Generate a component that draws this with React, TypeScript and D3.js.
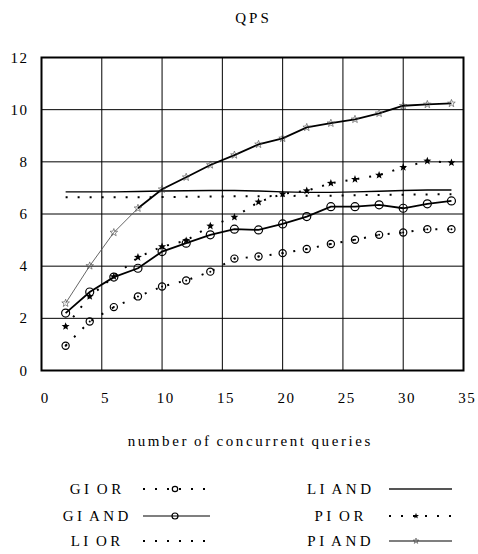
import React from "react";
import * as d3 from "d3";

const xs = [2, 4, 6, 8, 10, 12, 14, 16, 18, 20, 22, 24, 26, 28, 30, 32, 34];
const giOr = [0.95, 1.88, 2.43, 2.84, 3.22, 3.45, 3.79, 4.29, 4.37, 4.5, 4.66, 4.85, 5.01, 5.2, 5.29, 5.42, 5.42];
const giAnd = [2.2, 3.01, 3.58, 3.92, 4.56, 4.88, 5.2, 5.42, 5.39, 5.62, 5.9, 6.28, 6.28, 6.35, 6.22, 6.39, 6.5];
const liOr = [6.64, 6.64, 6.64, 6.64, 6.65, 6.66, 6.67, 6.68, 6.68, 6.69, 6.7, 6.7, 6.72, 6.73, 6.74, 6.75, 6.76];
const liAnd = [6.85, 6.85, 6.85, 6.86, 6.88, 6.89, 6.9, 6.9, 6.88, 6.85, 6.83, 6.83, 6.85, 6.87, 6.9, 6.92, 6.92];
const piOr = [1.69, 2.84, 3.6, 4.34, 4.75, 4.98, 5.54, 5.88, 6.46, 6.77, 6.89, 7.18, 7.33, 7.49, 7.79, 8.03, 7.97];
const piAnd = [2.58, 4.01, 5.29, 6.22, 6.95, 7.41, 7.88, 8.26, 8.67, 8.9, 9.32, 9.48, 9.63, 9.86, 10.15, 10.2, 10.24];

const xTicks = [0, 5, 10, 15, 20, 25, 30, 35];
const yTicks = [0, 2, 4, 6, 8, 10, 12];
const title = "QPS";
const xLabel = "number of concurrent queries";

const FONT = "'Liberation Serif', 'DejaVu Serif', serif";

function starPath(cx: number, cy: number, R: number) {
  const r = R * 0.42;
  const pts: [number, number][] = [];
  for (let i = 0; i < 10; i++) {
    const a = -Math.PI / 2 + (i * Math.PI) / 5;
    const rr = i % 2 === 0 ? R : r;
    pts.push([cx + rr * Math.cos(a), cy + rr * Math.sin(a)]);
  }
  return "M" + pts.map((p) => p.join(",")).join("L") + "Z";
}

type Kind = "dotCircle" | "circle" | "none" | "starFill" | "starOpen";

function Marker({ kind, x, y, s = 1 }: { kind: Kind; x: number; y: number; s?: number }) {
  if (kind === "dotCircle")
    return (
      <g>
        <circle cx={x} cy={y} r={3.6 * s} fill="none" stroke="#000" strokeWidth={1.2} />
        {s === 1 && <circle cx={x} cy={y} r={1} fill="#000" />}
      </g>
    );
  if (kind === "circle")
    return <circle cx={x} cy={y} r={4 * s} fill="none" stroke="#000" strokeWidth={1.2} />;
  if (kind === "starFill") return <path d={starPath(x, y, 4.2 * s)} fill="#000" />;
  if (kind === "starOpen")
    return <path d={starPath(x, y, 4 * s)} fill="none" stroke="#444" strokeWidth={0.6} />;
  return null;
}

function SpacedText({
  x,
  y,
  text,
  size,
  spacing,
  wordSpacing = 0,
  anchor = "middle",
}: {
  x: number;
  y: number;
  text: string | number;
  size: number;
  spacing: number;
  wordSpacing?: number;
  anchor?: "start" | "middle" | "end";
}) {
  const shift = anchor === "middle" ? spacing / 2 : anchor === "end" ? spacing : 0;
  return (
    <text
      x={x + shift}
      y={y}
      textAnchor={anchor}
      dominantBaseline="central"
      style={{ fontFamily: FONT, fontSize: size, letterSpacing: spacing, wordSpacing }}
      fill="#000"
    >
      {text}
    </text>
  );
}

export default function App() {
  const x = d3.scaleLinear().domain([0, 35]).range([41.5, 463.5]);
  const y = d3.scaleLinear().domain([0, 12]).range([370.5, 57.5]);
  const line = d3
    .line<number>()
    .x((_, i) => x(xs[i]))
    .y((d) => y(d));

  const series: { name: string; data: number[]; dotted: boolean; kind: Kind; width: number }[] = [
    { name: "GI OR", data: giOr, dotted: true, kind: "dotCircle", width: 2 },
    { name: "GI AND", data: giAnd, dotted: false, kind: "circle", width: 1.8 },
    { name: "LI OR", data: liOr, dotted: true, kind: "none", width: 2 },
    { name: "LI AND", data: liAnd, dotted: false, kind: "none", width: 1.4 },
    { name: "PI OR", data: piOr, dotted: true, kind: "starFill", width: 2 },
    { name: "PI AND", data: piAnd, dotted: false, kind: "starOpen", width: 1.8 },
  ];

  const legendRows = [489, 516, 541];

  return (
    <svg
      width={478}
      height={554}
      style={{ position: "absolute", left: 0, top: 0, background: "#fff" }}
    >
      <rect x={0} y={0} width={478} height={554} fill="#fff" />
      {/* grid */}
      {xTicks.slice(1, -1).map((t) => (
        <line key={"gx" + t} x1={x(t)} x2={x(t)} y1={y(0)} y2={y(12)} stroke="#000" strokeWidth={1} />
      ))}
      {yTicks.slice(1, -1).map((t) => (
        <line key={"gy" + t} x1={x(0)} x2={x(35)} y1={y(t)} y2={y(t)} stroke="#000" strokeWidth={1} />
      ))}
      <rect
        x={x(0)}
        y={y(12)}
        width={x(35) - x(0)}
        height={y(0) - y(12)}
        fill="none"
        stroke="#000"
        strokeWidth={2}
      />
      {/* tick labels */}
      {yTicks.map((t) => (
        <SpacedText key={"yl" + t} x={27} y={y(t)} text={t} size={15} spacing={1.5} anchor="end" />
      ))}
      {xTicks.map((t) => (
        <SpacedText key={"xl" + t} x={x(t) + 3} y={398} text={t} size={15} spacing={1.5} />
      ))}
      <SpacedText x={252} y={18} text={title} size={15} spacing={3} />
      <SpacedText x={249} y={441} text={xLabel} size={15} spacing={2.6} wordSpacing={-1.5} />
      {/* series */}
      {series.map((s) => {
        if (s.name === "PI AND") {
          const thin = s.data.slice(0, 4);
          return (
            <g key={s.name}>
              <path d={line(thin) || ""} fill="none" stroke="#555" strokeWidth={0.9} />
              <path
                d={
                  d3
                    .line<number>()
                    .x((_, i) => x(xs[i + 3]))
                    .y((d) => y(d))(s.data.slice(3)) || ""
                }
                fill="none"
                stroke="#000"
                strokeWidth={s.width}
              />
            </g>
          );
        }
        return (
          <path
            key={s.name}
            d={line(s.data) || ""}
            fill="none"
            stroke="#000"
            strokeWidth={s.width}
            strokeDasharray={s.dotted ? "2 10" : undefined}
          />
        );
      })}
      {series.map((s) =>
        s.kind === "none"
          ? null
          : s.data.map((v, i) => <Marker key={s.name + i} kind={s.kind} x={x(xs[i])} y={y(v)} />)
      )}
      {/* legend */}
      {series.map((s, i) => {
        const col = i < 3 ? 0 : 1;
        const row = i % 3;
        const ly = legendRows[row];
        const tx = col === 0 ? 95.5 : 339;
        const x1 = col === 0 ? 143 : 389;
        const x2 = col === 0 ? 210 : 452;
        const mx = col === 0 ? 175 : 416;
        return (
          <g key={"lg" + s.name}>
            <SpacedText x={tx} y={ly} text={s.name} size={15} spacing={3.5} wordSpacing={-3} />
            <line
              x1={x1}
              x2={x2}
              y1={ly}
              y2={ly}
              stroke={s.name === "LI AND" ? "#555" : "#000"}
              strokeWidth={s.dotted ? 2 : s.name === "LI AND" ? 1.8 : 1.1}
              strokeDasharray={s.dotted ? "2 10" : undefined}
            />
            {s.kind !== "none" && <Marker kind={s.kind} x={mx} y={ly} s={0.75} />}
          </g>
        );
      })}
    </svg>
  );
}
